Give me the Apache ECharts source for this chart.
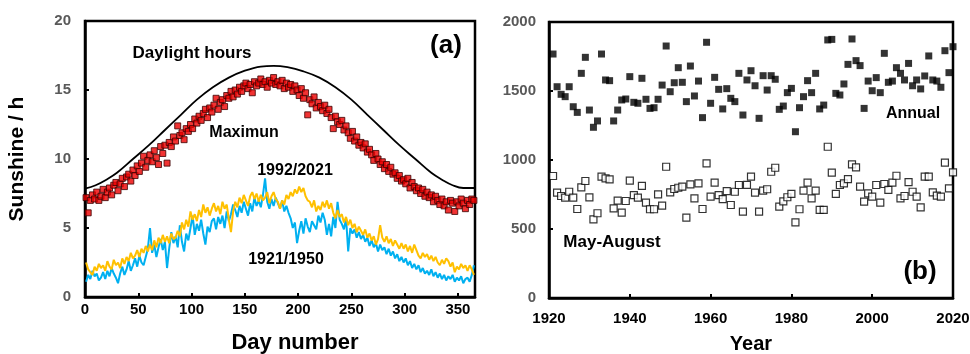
<!DOCTYPE html>
<html>
<head>
<meta charset="utf-8">
<script src="https://cdn.jsdelivr.net/npm/echarts@6/dist/echarts.min.js"></script>
<style>
html,body{margin:0;padding:0;background:#fff;}
#chart{width:970px;height:354px;}
</style>
</head>
<body>
<div id="chart"></div>
<script>
// ---------- Panel (a) ----------
const daylightDays = [0,10,20,30,45,60,75,90,105,120,135,150,165,177,190,205,220,235,250,265,280,295,310,325,335,345,355,366];
const daylightHours = [7.85,8.1,8.5,9.0,10.0,11.0,12.1,13.2,14.3,15.2,15.9,16.4,16.7,16.75,16.65,16.35,15.9,15.2,14.3,13.2,12.1,11.0,10.0,9.0,8.5,8.1,7.9,7.9];

// day numbers of the daily samples (every second day, 1..365)
const sampleDays = Array.from({length:183}, (_, i) => 1 + 2 * i);

const maximumSunshine = [
  7.2,6.1,7.0,7.4,7.1,7.6,7.0,7.3,7.8,7.2,
  7.6,7.9,7.4,8.1,8.3,7.7,8.2,8.6,8.0,8.7,
  8.9,8.4,9.2,8.8,9.5,9.1,9.7,10.2,9.4,9.9,
  10.3,9.8,10.6,10.1,9.6,10.9,10.4,11.0,9.7,11.2,
  10.9,11.6,11.3,12.4,11.7,11.9,11.4,12.2,12.0,12.5,
  12.2,12.9,12.6,13.1,12.8,13.3,13.6,13.0,13.7,13.4,
  13.9,14.4,13.6,14.1,14.3,13.8,14.6,14.4,14.9,14.5,
  15.0,14.7,15.2,14.9,15.3,15.5,15.1,15.4,14.8,15.6,
  15.3,15.5,15.8,15.4,15.6,15.2,15.7,15.5,15.9,15.4,
  15.6,15.3,15.7,15.1,15.5,15.2,15.4,14.9,15.3,15.0,
  14.6,15.1,14.4,14.8,13.2,14.3,14.0,14.5,13.7,14.1,
  13.8,13.5,13.9,13.3,13.6,13.0,12.2,13.1,12.7,12.5,
  12.8,12.1,12.4,11.9,11.5,12.0,11.3,11.6,11.0,11.2,
  10.8,11.1,10.5,10.7,10.3,9.9,10.4,10.0,9.6,9.8,
  9.3,9.6,9.1,9.4,8.9,9.0,8.6,8.8,8.4,8.5,
  8.2,8.6,7.9,8.3,8.0,7.7,7.9,7.5,7.8,7.3,
  7.6,7.2,7.4,6.9,7.3,7.0,6.7,7.1,6.6,6.9,
  6.3,7.0,6.8,6.2,6.9,6.6,7.1,6.8,6.4,7.0,
  6.7,7.1,7.0
];

const sunshine1921_1950 = [
  1.1,1.6,1.3,1.9,1.5,1.7,1.2,1.4,1.8,1.3,
  1.9,1.5,2.1,1.7,1.4,1.0,1.7,2.2,1.6,2.0,
  2.6,1.9,2.3,2.8,2.2,3.0,2.5,2.3,2.9,3.5,
  5.0,3.2,3.8,2.9,3.6,4.2,3.4,4.0,2.1,3.5,
  4.7,3.9,4.4,3.6,5.2,4.0,3.3,4.6,4.1,5.0,
  5.9,4.5,5.3,4.8,5.6,4.6,3.8,5.1,4.7,5.5,
  5.7,4.9,5.8,5.3,5.9,5.0,6.2,5.5,6.0,6.7,
  6.3,5.8,6.6,6.1,6.9,6.4,5.9,6.8,6.2,7.2,
  6.6,7.0,6.5,7.4,8.6,6.9,6.4,7.1,6.6,7.2,
  6.8,6.4,7.0,6.2,6.6,6.1,5.7,5.0,5.4,3.9,
  4.8,5.5,4.6,5.7,5.1,4.7,5.5,5.2,4.9,5.9,
  5.4,6.1,5.6,4.5,5.3,4.4,5.8,5.0,6.9,5.6,
  5.3,4.9,5.7,3.3,5.0,4.6,4.9,4.3,4.7,4.2,
  4.5,4.0,4.3,3.7,4.1,3.6,3.9,3.3,3.8,3.4,
  3.6,3.1,3.5,3.0,3.3,2.8,3.1,2.6,2.9,2.5,
  2.8,2.3,2.6,2.1,2.4,2.0,2.3,1.8,2.1,1.7,
  1.9,1.6,2.0,1.5,1.8,1.4,1.7,1.3,1.6,1.2,
  1.5,1.3,1.6,1.1,1.4,1.2,1.5,1.0,1.3,1.4,
  1.1,1.6,2.3
];

const sunshine1992_2021 = [
  2.5,2.0,1.8,1.6,2.2,1.9,2.4,2.1,2.3,1.9,
  2.6,2.2,2.0,2.7,2.3,2.5,2.1,2.8,2.4,2.9,
  2.6,3.2,2.8,3.0,3.4,2.9,3.5,3.2,3.7,3.3,
  3.8,3.4,4.1,3.6,4.3,3.9,4.5,4.0,4.4,3.9,
  4.6,4.2,4.3,4.8,4.4,5.4,4.9,5.6,5.1,6.2,
  5.6,6.0,5.5,6.3,5.8,6.7,6.1,6.5,5.9,6.4,
  6.8,6.2,6.6,6.0,6.9,6.4,6.7,5.6,4.7,6.2,
  6.9,6.5,7.2,6.8,7.4,7.0,6.6,7.3,7.6,7.1,
  7.5,6.9,7.4,7.0,7.2,7.6,6.8,7.3,7.6,7.1,
  6.9,6.4,7.0,6.7,7.4,7.1,7.6,7.3,7.8,7.5,
  8.0,7.6,7.9,7.3,7.0,6.9,6.5,7.0,6.2,6.6,
  6.3,6.9,6.5,7.0,6.4,6.8,6.1,5.7,6.3,5.8,
  6.0,5.4,5.8,5.2,5.6,5.0,5.3,4.7,5.1,4.8,
  4.5,4.9,4.3,4.6,4.1,4.4,3.8,4.2,5.2,4.3,
  4.0,4.4,3.9,4.2,3.7,4.1,3.8,3.5,3.9,3.5,
  3.8,3.3,3.7,3.2,3.8,3.4,3.0,2.8,3.2,2.9,
  3.1,2.7,3.0,2.6,2.9,2.5,2.3,2.7,2.4,2.8,
  2.6,2.2,2.5,1.8,2.2,2.0,2.4,2.1,2.3,1.9,
  2.3,2.0,1.6
];

// ---------- Panel (b) ----------
const years = Array.from({length:100}, (_, i) => 1921 + i);
const annualSunshine = [
  1768,1531,1476,1459,1531,1386,1345,1628,1744,1362,
  1237,1283,1768,1580,1575,1283,1362,1435,1442,1604,
  1418,1411,1592,1440,1374,1379,1440,1543,1826,1495,
  1560,1669,1563,1423,1681,1464,1572,1307,1853,1411,
  1599,1512,1370,1517,1447,1423,1628,1326,1580,1647,
  1538,1302,1611,1507,1611,1585,1367,1391,1488,1519,
  1205,1379,1459,1575,1488,1628,1370,1398,1870,1874,
  1483,1471,1551,1693,1877,1720,1684,1374,1572,1502,
  1597,1488,1773,1563,1572,1669,1628,1580,1700,1538,
  1580,1515,1609,1754,1580,1572,1527,1792,1633,1821
];
const mayAugustSunshine = [
  884,763,739,727,770,727,645,802,848,729,
  570,614,879,867,860,650,705,618,703,850,
  746,727,812,691,643,643,751,669,951,766,
  790,799,807,582,824,722,831,645,976,734,
  836,746,717,775,674,770,819,626,820,879,
  763,626,778,788,915,944,662,700,730,755,
  548,643,778,836,722,778,638,638,1096,908,
  754,819,830,862,969,947,807,698,758,734,
  819,691,826,783,836,886,722,739,840,770,
  734,657,879,879,766,742,734,981,795,911
];

const zip = (xs, ys) => xs.map((x, i) => [x, ys[i]]);

const FONT = 'Arial, "Liberation Sans", sans-serif';
const plain = v => String(v);
const axisLine = {show:true, onZero:false, lineStyle:{color:'#000', width:2.5}};
const axisTick = {show:true, inside:true, length:4, lineStyle:{color:'#000', width:2}};
const yLabel = {color:'#595959', fontWeight:'bold', fontSize:15, fontFamily:FONT, formatter:plain};
const xLabel = {color:'#000', fontWeight:'bold', fontSize:15, fontFamily:FONT, formatter:plain};

const chart = echarts.init(document.getElementById('chart'), null, {renderer:'canvas'});
const txt = (x, y, text, size) => ({
  type:'text', x:x, y:y, z:100,
  style:{text:text, font:'bold ' + size + 'px ' + FONT, fill:'#000', textAlign:'center', textVerticalAlign:'middle'}
});

chart.setOption({
  backgroundColor:'#fff',
  animation:false,
  grid:[
    {left:85, top:21, width:390, height:276, show:true, borderColor:'#000', borderWidth:2.5,
     containLabel:false, outerBoundsMode:'none'},
    {left:549, top:22, width:404, height:276, show:true, borderColor:'#000', borderWidth:2.5,
     containLabel:false, outerBoundsMode:'none'}
  ],
  xAxis:[
    {gridIndex:0, type:'value', min:0, max:366, interval:50, splitLine:{show:false},
     axisLine:axisLine, axisTick:axisTick,
     axisLabel:Object.assign({margin:5, showMaxLabel:false}, xLabel)},
    {gridIndex:1, type:'value', min:1920, max:2020, interval:20, splitLine:{show:false},
     axisLine:axisLine, axisTick:axisTick,
     axisLabel:Object.assign({margin:13}, xLabel)}
  ],
  yAxis:[
    {gridIndex:0, type:'value', min:0, max:20, interval:5, splitLine:{show:false},
     axisLine:axisLine, axisTick:axisTick,
     axisLabel:Object.assign({margin:14}, yLabel),
     name:'Sunshine / h', nameLocation:'middle', nameGap:57, nameRotate:90,
     nameTextStyle:{color:'#000', fontWeight:'bold', fontSize:21, fontFamily:FONT}},
    {gridIndex:1, type:'value', min:0, max:2000, interval:500, splitLine:{show:false},
     axisLine:axisLine, axisTick:axisTick,
     axisLabel:Object.assign({margin:13}, yLabel)}
  ],
  series:[
    {type:'line', xAxisIndex:0, yAxisIndex:0, data:zip(daylightDays, daylightHours), smooth:0.4,
     showSymbol:false, symbol:'none', lineStyle:{color:'#000', width:1.8}, z:3},
    {type:'line', xAxisIndex:0, yAxisIndex:0, data:zip(sampleDays, sunshine1921_1950),
     showSymbol:false, symbol:'none', lineStyle:{color:'#00B0F0', width:2}, z:4},
    {type:'line', xAxisIndex:0, yAxisIndex:0, data:zip(sampleDays, sunshine1992_2021),
     showSymbol:false, symbol:'none', lineStyle:{color:'#FFC000', width:2}, z:5},
    {type:'scatter', xAxisIndex:0, yAxisIndex:0, data:zip(sampleDays, maximumSunshine),
     symbol:'rect', symbolSize:6, itemStyle:{color:'#EE0000', borderColor:'#3a0000', borderWidth:1}, z:6},
    {type:'scatter', xAxisIndex:1, yAxisIndex:1, data:zip(years, annualSunshine),
     symbol:'rect', symbolSize:7, itemStyle:{color:'#000'}, z:5},
    {type:'scatter', xAxisIndex:1, yAxisIndex:1, data:zip(years, mayAugustSunshine),
     symbol:'rect', symbolSize:7, itemStyle:{color:'#fff', borderColor:'#000', borderWidth:1.2}, z:5}
  ],
  graphic:[
    txt(295, 343, 'Day number', 22),
    txt(751, 344, 'Year', 20),
    txt(192, 53, 'Daylight hours', 17),
    txt(446, 46, '(a)', 26),
    txt(244, 133, 'Maximun', 16),
    txt(295, 171, '1992/2021', 16),
    txt(286, 260, '1921/1950', 16),
    txt(913, 114, 'Annual', 16),
    txt(612, 242, 'May-August', 17),
    txt(920, 272, '(b)', 26)
  ]
});
</script>
</body>
</html>
